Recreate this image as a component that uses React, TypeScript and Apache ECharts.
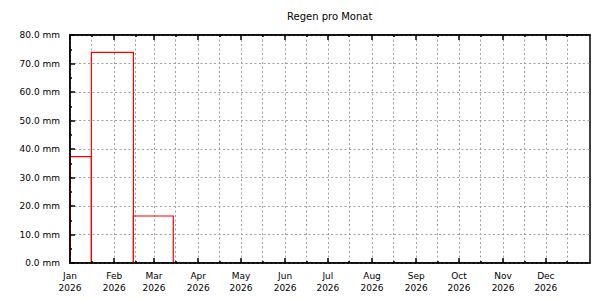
import React, { useEffect, useRef } from "react";
import * as echarts from "echarts";

const titleText = "Regen pro Monat";
const axisStart = "2026-01-01";
const axisEnd = "2027-01-01";
const monthStarts = [
  "2026-01-01", "2026-02-01", "2026-03-01", "2026-04-01", "2026-05-01", "2026-06-01",
  "2026-07-01", "2026-08-01", "2026-09-01", "2026-10-01", "2026-11-01", "2026-12-01",
];
const monthNames = ["Jan", "Feb", "Mar", "Apr", "May", "Jun", "Jul", "Aug", "Sep", "Oct", "Nov", "Dec"];
const midMonths = [
  "2026-01-16", "2026-02-16", "2026-03-16", "2026-04-16", "2026-05-16", "2026-06-16",
  "2026-07-16", "2026-08-16", "2026-09-16", "2026-10-16", "2026-11-16", "2026-12-16",
];
const barStarts = ["2026-01-01T00:00", "2026-01-16T00:00", "2026-02-14T12:00"];
const barEnds = ["2026-01-16T00:00", "2026-02-14T12:00", "2026-03-14T12:00"];
const rainMm = [37.3, 73.9, 16.5];
const yMin = 0;
const yMax = 80;
const yStep = 10;

const ts = (s: string) => Date.parse(s + (s.length === 10 ? "T00:00:00Z" : ":00Z"));

export default function App() {
  const ref = useRef<HTMLDivElement>(null);
  useEffect(() => {
    if (!ref.current) return;
    const chart = echarts.init(ref.current, null, { renderer: "svg" });
    const font = "DejaVu Sans";
    const xMin = ts(axisStart);
    const xMax = ts(axisEnd);
    const majors = monthStarts.map(ts);
    const minors = midMonths.map(ts);
    const grid = { left: 70, right: 20, top: 35, bottom: 37 };
    const dashed = { show: true, lineStyle: { color: "#a0a0a0", type: [2, 2.5] as any, width: 1 } };
    const baseX = { type: "value" as const, min: xMin, max: xMax, gridIndex: 0 };
    const data = rainMm.map((v, i) => [ts(barStarts[i]), ts(barEnds[i]), v]);
    chart.setOption({
      animation: false,
      title: {
        text: titleText,
        left: 287,
        top: 11,
        padding: 0,
        textStyle: { fontFamily: font, fontSize: 10, fontWeight: "normal", color: "#000" },
      },
      grid: { ...grid, show: true, borderColor: "#000", borderWidth: 1.5, backgroundColor: "transparent" },
      xAxis: [
        {
          ...baseX, position: "bottom", z: 0,
          axisLine: { show: false }, axisLabel: { show: false },
          axisTick: { show: false, customValues: majors }, splitLine: dashed,
        },
        {
          ...baseX, position: "bottom", z: 0,
          axisLine: { show: false }, axisLabel: { show: false },
          axisTick: { show: false, customValues: minors }, splitLine: dashed,
        },
        {
          ...baseX, position: "bottom", z: 5,
          axisLine: { show: true, onZero: false, lineStyle: { color: "#000", width: 1.5 } },
          axisTick: { show: true, inside: true, length: 5, customValues: majors, lineStyle: { color: "#000", width: 1.5 } },
          axisLabel: {
            show: true, customValues: majors, margin: 7, fontFamily: font, fontSize: 9, lineHeight: 12, color: "#000",
            formatter: (v: number) => {
              const d = new Date(v);
              return monthNames[d.getUTCMonth()] + "\n" + d.getUTCFullYear();
            },
          },
          splitLine: { show: false },
        },
        {
          ...baseX, position: "bottom", z: 5,
          axisLine: { show: false },
          axisTick: { show: true, inside: true, length: 2, customValues: minors, lineStyle: { color: "#000", width: 1.5 } },
          axisLabel: { show: false }, splitLine: { show: false },
        },
        {
          ...baseX, position: "top", z: 5,
          axisLine: { show: true, onZero: false, lineStyle: { color: "#000", width: 1.5 } },
          axisTick: { show: true, inside: true, length: 5, customValues: majors, lineStyle: { color: "#000", width: 1.5 } },
          axisLabel: { show: false }, splitLine: { show: false },
        },
        {
          ...baseX, position: "top", z: 5,
          axisLine: { show: false },
          axisTick: { show: true, inside: true, length: 2, customValues: minors, lineStyle: { color: "#000", width: 1.5 } },
          axisLabel: { show: false }, splitLine: { show: false },
        },
      ],
      yAxis: [
        {
          type: "value", min: yMin, max: yMax, interval: yStep, position: "left", z: 0,
          axisLine: { show: false }, axisTick: { show: false }, axisLabel: { show: false },
          splitLine: dashed,
        },
        {
          type: "value", min: yMin, max: yMax, interval: yStep, position: "left", z: 5,
          axisLine: { show: true, onZero: false, lineStyle: { color: "#000", width: 1.5 } },
          axisTick: { show: true, inside: true, length: 5, lineStyle: { color: "#000", width: 1.5 } },
          minorTick: { show: true, splitNumber: 2, length: 2, lineStyle: { color: "#000", width: 1.5 } },
          axisLabel: {
            show: true, margin: 10, fontFamily: font, fontSize: 9, color: "#000",
            formatter: (v: number) => v.toFixed(1) + " mm",
          },
          splitLine: { show: false },
        },
      ],
      series: [
        {
          type: "custom",
          xAxisIndex: 0,
          yAxisIndex: 0,
          z: 2,
          data,
          encode: { x: [0, 1], y: 2 },
          renderItem: (params: any, api: any) => {
            const p0 = api.coord([api.value(0), 0]);
            const pTop0 = api.coord([api.value(0), api.value(2)]);
            const p1 = api.coord([api.value(1), 0]);
            const pTop1 = api.coord([api.value(1), api.value(2)]);
            return {
              type: "polyline",
              shape: { points: [p0, pTop0, pTop1, p1] },
              style: { fill: "none", stroke: "#ff0000", lineWidth: 1.2 },
            };
          },
        },
      ],
    });
    return () => chart.dispose();
  }, []);
  return (
    <div
      ref={ref}
      style={{ position: "fixed", left: 0, top: 0, width: 610, height: 300, background: "#fff" }}
    />
  );
}
